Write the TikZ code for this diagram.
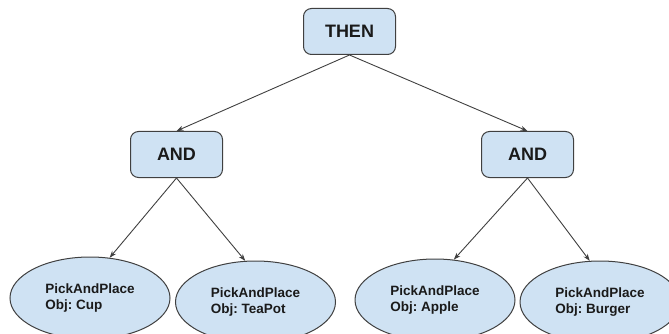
\documentclass[tikz,border=0pt]{standalone}
\usepackage{fontspec}
\setmainfont{Liberation Sans}
\frenchspacing
\usetikzlibrary{shapes.geometric,arrows.meta}
\definecolor{boxfill}{HTML}{CFE2F3}
\definecolor{edge}{HTML}{404040}
\definecolor{ink}{HTML}{1A1A1A}
\tikzset{
  opbox/.style={draw=edge, line width=1pt, fill=boxfill, rounded corners=8pt,
    minimum width=92pt, minimum height=46pt, inner sep=0pt, text=ink,
    font=\fontsize{18}{20}\selectfont\bfseries},
  taskoval/.style={ellipse, draw=edge, line width=1pt, fill=boxfill,
    minimum width=160pt, minimum height=82pt, inner sep=0pt, align=left,
    text=ink, font=\fontsize{13.5}{16.5}\selectfont\bfseries},
  link/.style={draw=edge, line width=0.9pt, -{Stealth[length=7pt,width=5pt]}}
}
\begin{document}
\begin{tikzpicture}[x=1pt,y=-1pt]
  \useasboundingbox (0,0) rectangle (669,334);
  \clip (0,0) rectangle (669,334);
  % control nodes
  \node[opbox] (then) at (349.5,31.5) {THEN};
  \node[opbox] (andL) at (176.5,154.5) {AND};
  \node[opbox] (andR) at (527.5,154.5) {AND};
  % leaf tasks
  \node[taskoval] (cup)    at (90,298)  {PickAndPlace\\Obj: Cup};
  \node[taskoval] (teapot) at (255.5,302) {PickAndPlace\\Obj: TeaPot};
  \node[taskoval] (apple)  at (435,300) {PickAndPlace\\Obj: Apple};
  \node[taskoval] (burger) at (600,302) {PickAndPlace\\Obj: Burger};
  % connectors
  \draw[link] (then.south) -- (andL.north);
  \draw[link] (then.south) -- (andR.north);
  \draw[link] (andL.south) -- (cup.64);
  \draw[link] (andL.south) -- (teapot.104);
  \draw[link] (andR.south) -- (apple.65);
  \draw[link] (andR.south) -- (burger.104);
\end{tikzpicture}
\end{document}
